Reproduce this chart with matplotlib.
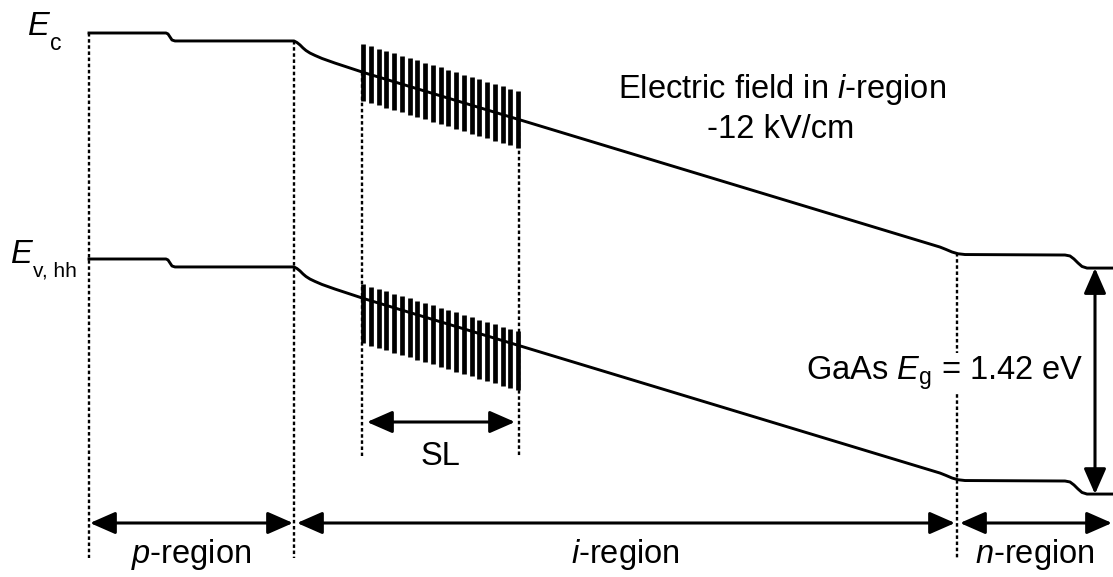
import numpy as np
import matplotlib
matplotlib.use("Agg")
import matplotlib.pyplot as plt
from matplotlib.patches import FancyArrowPatch, ArrowStyle

# ---------------- data ----------------
# conduction-band edge: position (a.u.) and energy (eV)
ec_x = [89, 166, 168, 170, 172, 175, 294, 297, 300, 303, 306, 310, 315, 322,
        335, 350, 365, 940, 946, 952, 958, 965, 1065, 1070, 1074, 1078, 1082,
        1087, 1113]
ec_E = [0.000, 0.000, -0.006, -0.025, -0.044, -0.050, -0.050, -0.060, -0.075,
        -0.094, -0.110, -0.126, -0.141, -0.160, -0.189, -0.220, -0.251,
        -1.345, -1.360, -1.376, -1.387, -1.392, -1.395, -1.401, -1.420,
        -1.445, -1.467, -1.477, -1.477]
gap_eV = 1.42                      # GaAs band gap (Ev,hh = Ec - Eg)

# region boundaries (a.u.)
p_start, p_end = 89, 294
n_start, n_end = 957, 1113
sl_start, sl_end = 363, 518
sl_periods = 21
# superlattice bar extents relative to the band edge (eV)
sl_cb_up, sl_cb_down = 0.178, 0.178
sl_vb_up, sl_vb_down = 0.088, 0.283

region_labels = [r"$\mathit{p}$-region", r"$\mathit{i}$-region", r"$\mathit{n}$-region"]

# ---------------- figure ----------------
plt.rcParams['font.family'] = ['Liberation Sans', 'DejaVu Sans']
plt.rcParams['mathtext.fontset'] = 'custom'
plt.rcParams['mathtext.rm'] = 'Liberation Sans'
plt.rcParams['mathtext.it'] = 'Liberation Sans:italic'
plt.rcParams['mathtext.bf'] = 'Liberation Sans:bold'

W, H = 1113, 577
PXE = 159.15          # pixels per eV in the picture
TOP = 33              # pixel row of Ec = 0


def Y(px):
    """layout helper: picture row -> energy coordinate"""
    return (TOP - px) / PXE


fig = plt.figure(figsize=(W / 100, H / 100), dpi=100)
ax = fig.add_axes([0, 0, 1, 1])
ax.set_xlim(0, W)
ax.set_ylim(Y(H), Y(0))
ax.axis('off')

ec_x_a = np.array(ec_x, float)
ec_E_a = np.array(ec_E, float)
ev_E_a = ec_E_a - gap_eV

lw_band = 2.1
ax.plot(ec_x_a, ec_E_a, color='black', lw=lw_band, solid_joinstyle='round', zorder=3)
ax.plot(ec_x_a, ev_E_a, color='black', lw=lw_band, solid_joinstyle='round', zorder=3)

# superlattice bars
bar_x = np.linspace(sl_start, sl_end, sl_periods)
cb_at = np.interp(bar_x, ec_x_a, ec_E_a)
vb_at = cb_at - gap_eV
ax.vlines(bar_x, cb_at - sl_cb_down, cb_at + sl_cb_up, color='black',
          lw=3.4, capstyle='butt', zorder=4)
ax.vlines(bar_x, vb_at - sl_vb_down, vb_at + sl_vb_up, color='black',
          lw=3.4, capstyle='butt', zorder=4)

# dashed boundary lines
dash = dict(color='black', lw=1.7, linestyle=(0, (1.5, 1.1)), zorder=2)
bottom_dash = Y(558)
for xb in (p_start, p_end, n_start):
    ax.plot([xb, xb], [np.interp(xb, ec_x_a, ec_E_a), bottom_dash], **dash)
for xb in (sl_start - 1, sl_end + 1):
    ax.plot([xb, xb], [np.interp(xb, ec_x_a, ec_E_a), Y(456)], **dash)

# arrows
def darrow(p0, p1):
    st = ArrowStyle("<|-|>", head_length=15.5, head_width=6.8)
    a = FancyArrowPatch(p0, p1, arrowstyle=st, mutation_scale=1, lw=2.2,
                        color='black', shrinkA=0, shrinkB=0, zorder=5)
    ax.add_patch(a)

ya = Y(523)
darrow((p_start + 1, ya), (p_end - 1, ya))
darrow((p_end + 3, ya), (n_start - 2, ya))
darrow((n_start + 3, ya), (n_end - 1, ya))
darrow((sl_start + 4, Y(422)), (sl_end - 3, Y(422)))
x_eg = 1095
darrow((x_eg, ec_E_a[-1]), (x_eg, ev_E_a[-1]))

# text
fs = 23.5
ax.text(28, Y(35), "E", fontsize=fs, style='italic', ha='left', va='baseline')
ax.text(50, Y(50), "c", fontsize=16.5, ha='left', va='baseline')
ax.text(11, Y(263), "E", fontsize=fs, style='italic', ha='left', va='baseline')
ax.text(33, Y(277), "v, hh", fontsize=15, ha='left', va='baseline')

ax.text(782, Y(98), r"Electric field in $\mathit{i}$-region", fontsize=fs,
        ha='center', va='baseline')
ax.text(781, Y(138), "-12 kV/cm", fontsize=fs, ha='center', va='baseline')

ax.text(806, Y(380), r"GaAs $E_{\mathrm{g}}$ = 1.42 eV", fontsize=fs,
        ha='left', va='baseline', zorder=6,
        bbox=dict(facecolor='white', edgecolor='none', pad=1.5))

ax.text((sl_start + sl_end) / 2, Y(465), "SL", fontsize=fs, ha='center', va='baseline')

for (x0, x1), lab in zip([(p_start, p_end), (p_end, n_start), (n_start, n_end)],
                         region_labels):
    ax.text((x0 + x1) / 2, Y(563), lab, fontsize=fs, ha='center', va='baseline')

fig.savefig("out.png", dpi=100)
